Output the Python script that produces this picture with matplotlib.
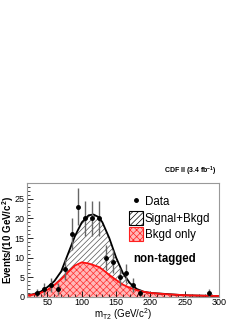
import numpy as np
import matplotlib
matplotlib.use("Agg")
import matplotlib.pyplot as plt
from matplotlib.patches import Patch
from matplotlib.lines import Line2D

plt.rcParams.update({
    "font.family": ["Liberation Sans", "DejaVu Sans"],
    "hatch.linewidth": 0.5,
    "mathtext.default": "regular",
})

# data points (bin centres, counts)
data_x = [35, 45, 55, 65, 75, 85, 95, 105, 115, 125, 135, 145, 155, 165, 175, 185, 285]
data_y = [1, 2, 3, 2, 7, 16, 23, 20, 20, 20, 10, 9, 5, 6, 3, 1, 1]

# fitted curves
curve_x = [20, 30, 40, 50, 60, 70, 80, 90, 100, 110, 117, 125, 130, 140, 150, 160, 170,
           180, 190, 200, 225, 250, 275, 300]
sig_bkg = [0.3, 0.7, 1.3, 2.5, 4.0, 6.5, 11.0, 15.5, 19.0, 20.8, 21.0, 20.3, 19.0, 15.0,
           10.0, 6.0, 3.5, 2.0, 1.3, 1.0, 0.7, 0.4, 0.3, 0.2]
bkg_only = [0.3, 0.6, 1.0, 1.8, 3.0, 4.5, 6.3, 8.0, 8.8, 8.5, 8.1, 7.6, 7.0, 5.6,
            4.3, 3.1, 2.3, 1.7, 1.3, 1.0, 0.65, 0.42, 0.3, 0.2]

fig = plt.figure(figsize=(2.49, 3.23), dpi=100)
ax = fig.add_axes([0.108, 0.081, 0.772, 0.352])

ax.fill_between(curve_x, 0, sig_bkg, facecolor="white", edgecolor="#555555",
                hatch="//////", linewidth=0)
ax.plot(curve_x, sig_bkg, color="black", lw=1.3)
ax.fill_between(curve_x, 0, bkg_only, facecolor="#ffb8b8", edgecolor="#ff3030",
                hatch="xxxxx", linewidth=0)
ax.plot(curve_x, bkg_only, color="#ff1010", lw=1.3)

ax.errorbar(data_x, data_y, yerr=np.sqrt(data_y), fmt="o", color="black", ms=2.5,
            ecolor="#666666", elinewidth=1.0, capsize=0)

ax.set_xlim(20, 300)
ax.set_ylim(0, 29)
ax.set_xticks([50, 100, 150, 200, 250, 300])
ax.set_yticks([0, 5, 10, 15, 20, 25])
ax.set_xticks(np.arange(20, 301, 10), minor=True)
ax.set_yticks(np.arange(0, 29, 1), minor=True)
ax.tick_params(direction="in", labelsize=6.5, length=4, width=0.6, pad=1.5)
ax.tick_params(axis="x", pad=1)
ax.tick_params(which="minor", direction="in", length=2, width=0.5)
for s in ax.spines.values():
    s.set_color("#999999")
    s.set_linewidth(0.8)

ax.set_ylabel("Events/(10 GeV/c$^2$)", fontsize=7, fontweight="bold")
ax.yaxis.set_label_coords(-0.055, 0.5)
ax.set_xlabel("m$_{T2}$ (GeV/c$^2$)", fontsize=7.0)
ax.xaxis.set_label_coords(0.5, -0.085)

handles = [
    Line2D([], [], marker="o", color="black", ls="none", ms=2.5),
    Patch(facecolor="white", edgecolor="black", hatch="//////", lw=0.8),
    Patch(facecolor="#ffb8b8", edgecolor="#ff2020", hatch="xxxxx", lw=0.8),
]
ax.legend(handles, ["Data", "Signal+Bkgd", "Bkgd only"], loc="upper left",
          bbox_to_anchor=(0.49, 0.97), frameon=False, fontsize=8.3,
          handlelength=1.2, handleheight=1.5, handletextpad=0.15, labelspacing=0.2,
          borderpad=0.2)

ax.text(0.555, 0.33, "non-tagged", transform=ax.transAxes, fontsize=8.3,
        fontweight="bold", ha="left", va="center")
fig.text(0.872, 0.45, "CDF II (3.4 fb$^{-1}$)", fontsize=5, fontweight="bold",
         ha="right", va="bottom")

fig.savefig("out.png", dpi=100)
